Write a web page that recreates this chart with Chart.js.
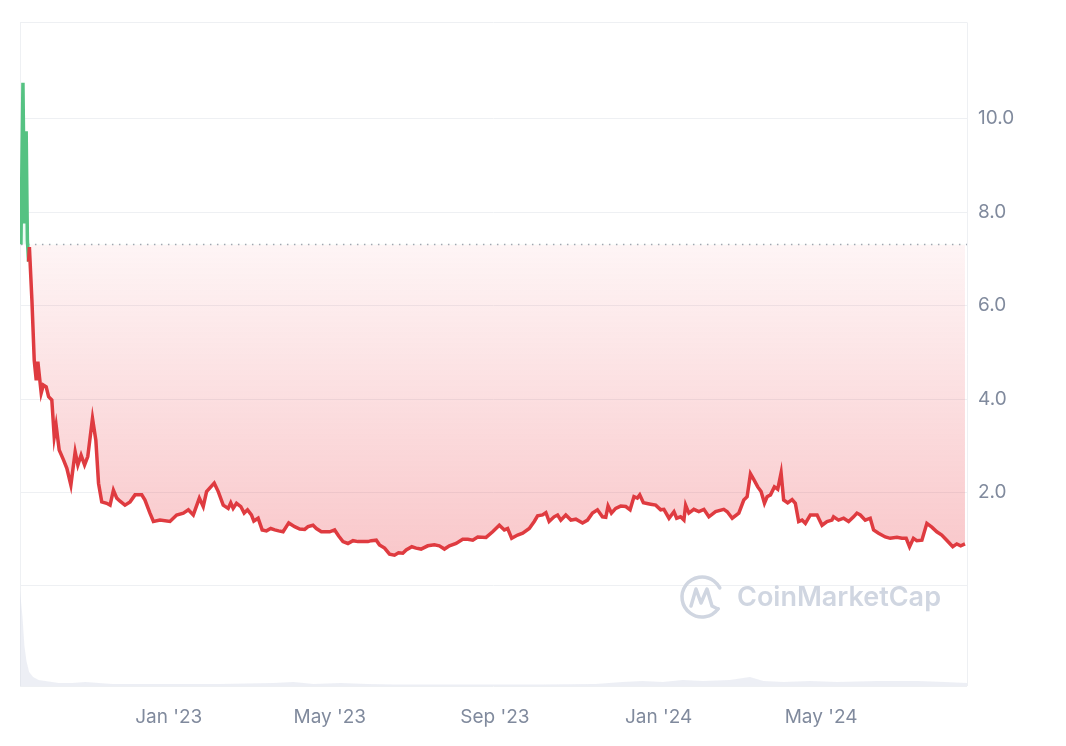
<!DOCTYPE html>
<html>
<head>
<meta charset="utf-8">
<title>Price chart</title>
<script src="https://cdn.jsdelivr.net/npm/chart.js@4.4.1/dist/chart.umd.min.js"></script>
<style>
  html, body { margin: 0; padding: 0; background: #fff; }
  #wrap { width: 1066px; height: 746px; }
</style>
</head>
<body>
<div id="wrap"><canvas id="myChart"></canvas></div>
<script>
'use strict';

// x values are days counted from 1 Sep 2022
const priceDays = [
  11.9, 13.4, 14.5, 15.8, 16.7, 17.6, 18.2, 20.1, 21.8, 23.3,
  24.5, 27.0, 28.6, 30.7, 32.5, 34.9, 36.7, 38.1, 40.4, 43.6,
  46.1, 49.1, 52.3, 54.3, 56.7, 59.3, 61.7, 65.2, 67.7, 69.7,
  72.1, 75.8, 78.3, 80.8, 83.3, 85.5, 89.4, 93.2, 96.9, 101.9,
  104.3, 108.0, 110.6, 115.5, 122.9, 127.9, 132.9, 136.6, 140.3, 144.8,
  147.7, 150.2, 155.9, 158.9, 162.6, 166.3, 168.2, 170.0, 172.5, 175.7,
  178.2, 180.7, 183.6, 185.4, 188.6, 191.6, 194.8, 198.0, 201.0, 203.9,
  207.2, 211.4, 215.8, 219.6, 223.3, 225.8, 229.5, 232.0, 235.7, 238.7,
  241.9, 245.6, 248.6, 251.8, 255.5, 259.3, 263.0, 266.7, 270.4, 272.9,
  276.6, 279.0, 282.8, 286.5, 290.2, 293.2, 296.4, 298.9, 303.1, 306.3,
  310.0, 315.0, 319.9, 323.6, 327.4, 331.1, 336.1, 341.0, 344.8, 348.5,
  352.2, 358.4, 363.3, 368.3, 372.0, 374.5, 377.5, 381.9, 385.7, 390.6,
  394.3, 396.8, 400.5, 403.0, 405.4, 409.1, 411.7, 414.1, 417.8, 421.6,
  425.3, 430.3, 434.0, 437.7, 441.4, 445.1, 447.6, 449.3, 451.8, 455.0,
  458.7, 462.5, 465.7, 468.6, 471.1, 472.9, 475.6, 481.0, 484.8, 488.5,
  490.9, 494.7, 498.4, 500.4, 503.3, 505.8, 507.1, 509.5, 513.2, 516.9,
  520.7, 524.4, 529.4, 535.5, 538.1, 541.8, 546.7, 550.4, 552.9, 555.4,
  557.8, 560.8, 563.3, 565.8, 567.8, 570.3, 573.2, 575.7, 578.2, 580.1,
  583.1, 586.4, 588.8, 591.3, 593.8, 596.3, 600.0, 605.0, 608.7, 612.4,
  616.1, 617.3, 621.0, 624.8, 628.5, 632.2, 634.7, 637.2, 640.9, 644.6,
  647.1, 650.8, 655.8, 659.5, 664.5, 668.2, 671.4, 673.9, 676.8, 679.3,
  683.1, 686.8, 690.5, 694.2, 697.9, 701.6, 706.1, 709.1, 712.0, 715.2
];
const prices = [
  7.31, 10.77, 7.76, 9.73, 7.4, 6.94, 7.25, 6.1, 4.83, 4.4,
  4.8, 4.13, 4.3, 4.26, 4.05, 3.98, 3.19, 3.44, 2.91, 2.7,
  2.52, 2.16, 2.87, 2.59, 2.80, 2.59, 2.77, 3.59, 3.12, 2.20,
  1.80, 1.77, 1.73, 2.05, 1.88, 1.82, 1.73, 1.80, 1.95, 1.95,
  1.84, 1.56, 1.38, 1.41, 1.38, 1.52, 1.56, 1.63, 1.52, 1.88,
  1.70, 2.02, 2.20, 2.02, 1.73, 1.66, 1.78, 1.66, 1.77, 1.70,
  1.56, 1.63, 1.52, 1.39, 1.45, 1.20, 1.18, 1.23, 1.20, 1.18,
  1.16, 1.35, 1.27, 1.22, 1.21, 1.27, 1.30, 1.23, 1.16, 1.16,
  1.16, 1.20, 1.07, 0.95, 0.91, 0.97, 0.95, 0.95, 0.95, 0.97,
  0.98, 0.88, 0.81, 0.68, 0.66, 0.71, 0.70, 0.77, 0.84, 0.81,
  0.79, 0.86, 0.88, 0.86, 0.79, 0.86, 0.91, 1.00, 1.00, 0.98,
  1.05, 1.04, 1.16, 1.30, 1.20, 1.23, 1.02, 1.09, 1.13, 1.23,
  1.38, 1.50, 1.52, 1.57, 1.38, 1.48, 1.52, 1.41, 1.52, 1.41,
  1.43, 1.35, 1.41, 1.56, 1.63, 1.48, 1.47, 1.71, 1.56, 1.66,
  1.71, 1.70, 1.63, 1.91, 1.88, 1.95, 1.78, 1.75, 1.73, 1.63,
  1.64, 1.45, 1.59, 1.45, 1.48, 1.41, 1.73, 1.56, 1.64, 1.59,
  1.64, 1.48, 1.59, 1.64, 1.59, 1.45, 1.56, 1.84, 1.91, 2.40,
  2.28, 2.12, 2.02, 1.77, 1.91, 1.95, 2.12, 2.07, 2.42, 1.84,
  1.78, 1.85, 1.77, 1.38, 1.41, 1.34, 1.52, 1.52, 1.30, 1.38,
  1.41, 1.48, 1.41, 1.45, 1.38, 1.48, 1.56, 1.52, 1.41, 1.45,
  1.20, 1.13, 1.05, 1.02, 1.04, 1.02, 1.02, 0.84, 1.02, 0.97,
  0.98, 1.34, 1.26, 1.16, 1.09, 0.98, 0.84, 0.90, 0.86, 0.90
];

// volume (relative units), same day scale
const volumeDays = [11.2, 11.9, 13, 14.5, 16, 18, 21, 25, 30, 40, 50, 60, 70, 80, 100, 130, 160, 200, 215, 230, 250, 270, 290, 330, 370, 400, 440, 460, 475, 490, 505, 520, 540, 555, 565, 580, 600, 620, 650, 680, 700, 716.7];
const volumes = [95, 95, 70, 40, 25, 14, 9, 6, 5, 3, 3, 4, 3, 2, 2, 2, 2, 3, 4, 2, 3, 2, 1.5, 1.5, 1.5, 1.5, 2, 4, 5, 4, 6, 5, 6, 9, 5, 4, 5, 4, 5, 5, 4, 3];

const tickDays = [122, 242, 365, 487, 608];
const tickLabels = ["Jan '23", "May '23", "Sep '23", "Jan '24", "May '24"];
const priceTicks = [2, 4, 6, 8, 10];
const baseline = 7.31;

const xMin = 11.2, xMax = 716.7;
const yMin = -2.14, yMax = 12.06;

const green = '#55c282';
const red = '#df3b40';
const gridColor = '#eef0f3';
const labelColor = '#808a9d';

// CoinMarketCap watermark, drawn under the line
const watermark = {
  id: 'watermark',
  beforeDatasetsDraw(chart) {
    const ctx = chart.ctx;
    const area = chart.chartArea;
    const cy = chart.scales.y.getPixelForValue(0) + 11;
    const cx = area.right - 265;
    ctx.save();
    ctx.strokeStyle = '#d0d6e1';
    ctx.lineWidth = 3.5;
    ctx.lineJoin = 'round';
    ctx.lineCap = 'round';
    ctx.beginPath();
    ctx.arc(cx, cy, 20, 0.2 * Math.PI, 1.85 * Math.PI);
    ctx.stroke();
    ctx.beginPath();
    ctx.moveTo(cx - 11, cy + 9);
    ctx.lineTo(cx - 6, cy - 8);
    ctx.lineTo(cx - 1, cy + 6);
    ctx.lineTo(cx + 5, cy - 8);
    ctx.lineTo(cx + 10, cy + 9);
    ctx.lineTo(cx + 16, cy + 12);
    ctx.stroke();
    ctx.fillStyle = '#d0d6e1';
    ctx.font = '600 27px Inter, "Noto Sans", sans-serif';
    ctx.textBaseline = 'middle';
    ctx.fillText('CoinMarketCap', cx + 35, cy + 1);
    ctx.restore();
  }
};

const ctx = document.getElementById('myChart').getContext('2d');

const myChart = new Chart(ctx, {
  type: 'line',
  data: {
    datasets: [
      {
        label: 'Price',
        data: priceDays.map((d, i) => ({ x: d, y: prices[i] })),
        yAxisID: 'y',
        order: 0,
        borderWidth: 3.5,
        borderColor: red,
        pointRadius: 0,
        tension: 0,
        segment: {
          borderColor: c => (c.p0.parsed.y > baseline || c.p1.parsed.y > baseline) ? green : red
        },
        fill: { target: { value: baseline }, above: 'rgba(22,199,132,0.08)' },
        backgroundColor: function(context) {
          const chart = context.chart;
          if (!chart.chartArea || !chart.scales.y) return 'rgba(234,57,67,0.12)';
          const top = chart.scales.y.getPixelForValue(baseline);
          const bottom = chart.scales.y.getPixelForValue(0);
          const g = chart.ctx.createLinearGradient(0, top, 0, bottom);
          g.addColorStop(0, 'rgba(234,57,67,0.05)');
          g.addColorStop(1, 'rgba(234,57,67,0.30)');
          return g;
        }
      },
      {
        label: 'Baseline',
        data: [{ x: priceDays[0], y: baseline }, { x: xMax, y: baseline }],
        yAxisID: 'y',
        order: 1,
        borderColor: '#a3a9b4',
        borderWidth: 1.5,
        borderDash: [1.5, 5.5],
        pointRadius: 0,
        fill: false
      },
      {
        label: 'Volume',
        data: volumeDays.map((d, i) => ({ x: d, y: volumes[i] })),
        yAxisID: 'yv',
        order: 2,
        borderWidth: 0,
        pointRadius: 0,
        tension: 0,
        fill: 'origin',
        backgroundColor: 'rgba(214,220,232,0.45)'
      }
    ]
  },
  options: {
    responsive: true,
    maintainAspectRatio: false,
    animation: false,
    layout: { padding: { left: 18, top: 22, right: 0, bottom: 0 } },
    plugins: {
      legend: { display: false },
      tooltip: { enabled: false }
    },
    scales: {
      x: {
        type: 'linear',
        min: xMin,
        max: xMax,
        afterBuildTicks: axis => {
          axis.ticks = [xMin].concat(tickDays, [xMax]).map(v => ({ value: v }));
        },
        ticks: {
          autoSkip: false,
          maxRotation: 0,
          padding: 20,
          color: labelColor,
          font: { family: 'Inter, "Noto Sans", sans-serif', size: 19 },
          callback: v => {
            const i = tickDays.indexOf(v);
            return i >= 0 ? tickLabels[i] : '';
          }
        },
        grid: {
          drawTicks: false,
          color: c => (c.tick && tickDays.includes(c.tick.value)) ? 'rgba(0,0,0,0)' : gridColor
        },
        border: { display: false },
        afterFit: s => { s.height = 60; }
      },
      y: {
        position: 'right',
        min: yMin,
        max: yMax,
        afterBuildTicks: axis => {
          axis.ticks = [yMin, 0].concat(priceTicks, [yMax]).map(v => ({ value: v }));
        },
        ticks: {
          padding: 11,
          color: labelColor,
          font: { family: 'Inter, "Noto Sans", sans-serif', size: 19 },
          callback: v => priceTicks.includes(v) ? v.toFixed(1) : ''
        },
        grid: { drawTicks: false, color: gridColor },
        border: { display: false },
        afterFit: s => { s.width = 99; }
      },
      yv: {
        display: false,
        min: 0,
        max: 664
      }
    }
  },
  plugins: [watermark]
});
</script>
</body>
</html>
